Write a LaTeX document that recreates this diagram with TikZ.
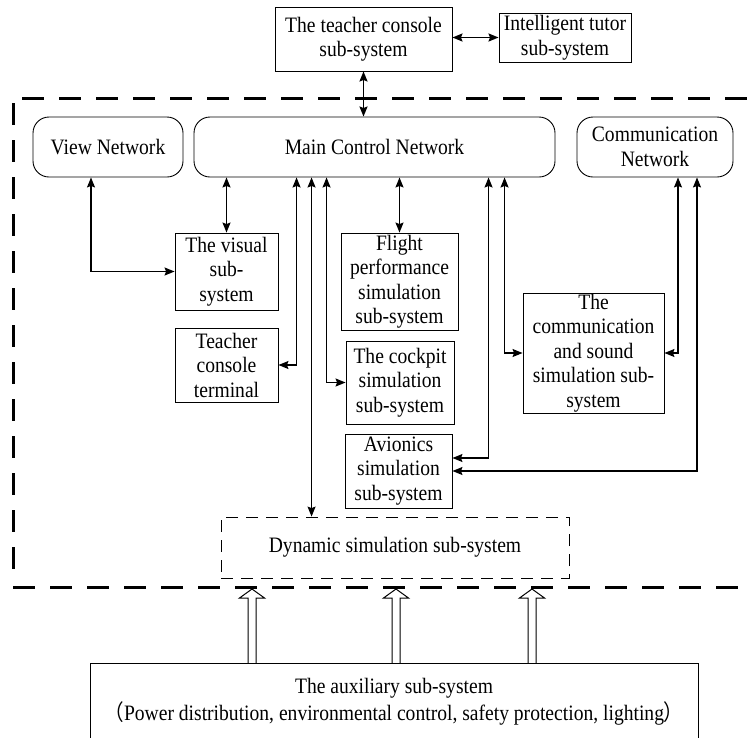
\documentclass[tikz,border=0pt]{standalone}
\usepackage{fontspec}
\setmainfont{Liberation Serif}[FakeStretch=0.89]
\newfontfamily\cjk{Noto Sans CJK SC}[FakeStretch=0.89]
\usetikzlibrary{arrows.meta,calc}
\begin{document}
\begin{tikzpicture}[x=1pt,y=-1pt,
  txt/.style={font=\fontsize{22}{24.5}\selectfont, align=center, inner sep=0pt},
  box/.style={txt, draw, line width=0.9pt},
  rbox/.style={box, rounded corners=16pt},
  dbox/.style={txt, draw, line width=0.8pt, dash pattern=on 12pt off 8pt},
  link/.style={line width=1.2pt, {Stealth[length=10pt,width=8pt,inset=1.5pt]}-{Stealth[length=10pt,width=8pt,inset=1.5pt]}},
  thicklink/.style={link, line width=1.7pt},
  outer/.style={line width=3pt, dash pattern=on 22pt off 15pt},
  hollow/.style={line width=1pt, line join=miter}
]
\useasboundingbox (0,0) rectangle (751,737);

% top boxes
\node[box, minimum width=177pt, minimum height=64pt] (tc) at (363.5,39) {The teacher console\\sub-system};
\node[box, minimum width=132pt, minimum height=49pt] (tut) at (565,37.5) {Intelligent tutor\\sub-system};

% networks
\node[rbox, minimum width=150pt, minimum height=60pt] (vn) at (108,147) {View Network};
\node[rbox, minimum width=361pt, minimum height=60pt] (mc) at (374.5,147) {Main Control Network};
\node[rbox, minimum width=156pt, minimum height=60pt] (cn) at (655,147) {Communication\\Network};

% sub-systems
\node[box, minimum width=103pt, minimum height=77pt] (vis) at (226.5,271.5) {The visual\\sub-\\system};
\node[box, minimum width=103pt, minimum height=74pt] (tct) at (226.5,365) {Teacher\\console\\terminal};
\node[box, minimum width=117pt, minimum height=97pt] (fp) at (399.5,281.5) {Flight\\performance\\simulation\\sub-system};
\node[box, minimum width=108pt, minimum height=83pt] (ck) at (400,382.5) {The cockpit\\simulation\\sub-system};
\node[box, minimum width=107pt, minimum height=74pt] (av) at (398.5,471) {Avionics\\simulation\\sub-system};
\node[box, minimum width=141pt, minimum height=120pt] (cs) at (593.5,353) {The\\communication\\and sound\\simulation sub-\\system};
\node[dbox, minimum width=348pt, minimum height=61pt] (dyn) at (395,547.5) {Dynamic simulation sub-system};
\node[box, minimum width=608pt, minimum height=77pt] (aux) at (394,701.5) {The auxiliary sub-system\\[2.5pt]{\cjk （}Power distribution, environmental control, safety protection, lighting{\cjk ）}};

% outer dashed frame
\draw[outer] (22,98) -- (770,98);
\draw[outer] (13,103) -- (13,580);
\draw[outer] (13,587) -- (770,587);

% connectors
\draw[thicklink] (tc.east |- tut.west) -- (tut.west);
\draw[thicklink] (tc.south) -- (tc.south |- mc.north);
\draw[link] (vis.north |- mc.south) -- (vis.north);
\draw[link] (fp.north |- mc.south) -- (fp.north);

\coordinate (vnb) at ([xshift=-17pt]vn.south);
\draw[link] (vnb) |- (vis.west);

\coordinate (m1) at ([xshift=103pt]mc.south west);
\coordinate (m2) at ([xshift=118pt]mc.south west);
\coordinate (m3) at ([xshift=133pt]mc.south west);
\coordinate (m4) at ([xshift=295pt]mc.south west);
\coordinate (m5) at ([xshift=311pt]mc.south west);
\draw[link] (m1) |- (tct.east);
\draw[link] (m2) -- (m2 |- dyn.north);
\draw[link] (m3) |- (ck.west);
\coordinate (ave) at ([yshift=13pt]av.east);
\draw[link] (m4) |- (ave);
\draw[link] (m5) |- (cs.west);

\coordinate (c1) at ([xshift=23pt]cn.south);
\coordinate (c2) at ([xshift=42pt]cn.south);
\draw[link] (c1) |- (cs.east);
\draw[link] (c2) |- (av.east);

% hollow arrows from auxiliary sub-system
\foreach \x in {252,396,532}
  \draw[hollow] (\x-4,663) -- (\x-4,598) -- (\x-12.5,598) -- (\x,589) -- (\x+12.5,598) -- (\x+4,598) -- (\x+4,663);
\end{tikzpicture}
\end{document}
